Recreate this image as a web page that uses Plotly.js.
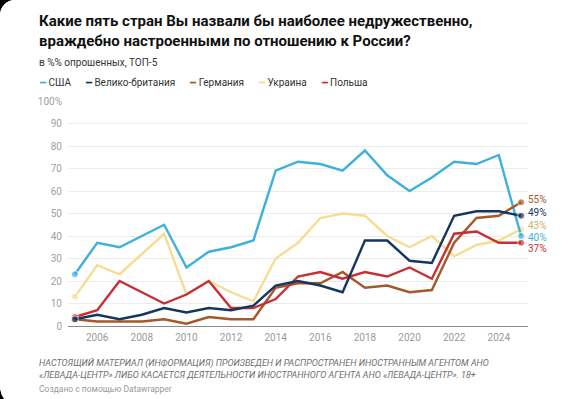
<!DOCTYPE html>
<html>
<head>
<meta charset="utf-8">
<script src="https://cdn.plot.ly/plotly-3.0.1.min.js"></script>
<style>
  html, body { margin: 0; padding: 0; background: #000; width: 577px; height: 399px; overflow: hidden; }
  #wrap { position: absolute; left: 0; top: 0; width: 577px; height: 408px; background: #fff;
          border-top-left-radius: 15px; border-bottom-left-radius: 22px; overflow: hidden; }
  #chart { width: 577px; height: 399px; }
</style>
</head>
<body>
<div id="wrap"><div id="chart"></div></div>
<script>
// ---- data ----
const years   = [2005,2006,2007,2008,2009,2010,2011,2012,2013,2014,2015,2016,2017,2018,2019,2020,2021,2022,2023,2024,2025];
const usa     = [23,37,35,40,45,26,33,35,38,69,73,72,69,78,67,60,66,73,72,76,40];
const uk      = [3,5,3,5,8,6,8,7,9,18,20,18,15,38,38,29,28,49,51,51,49];
const germany = [3,2,2,2,3,1,4,3,3,17,19,19,24,17,18,15,16,37,48,49,55];
const ukraine = [13,27,23,32,41,14,20,15,11,30,37,48,50,49,40,35,40,31,36,38,43];
const poland  = [4,7,20,15,10,14,20,8,8,12,22,24,21,24,22,26,21,41,42,37,37];
const seriesNames = ["США", "Велико-британия", "Германия", "Украина", "Польша"];
const xTicks = [2006,2008,2010,2012,2014,2016,2018,2020,2022,2024];
const yTicks = [0,10,20,30,40,50,60,70,80,90,100];
const yTickText = ["0","10","20","30","40","50","60","70","80","90","100%"];

// ---- style ----
const colors = ["#3db1dc", "#15365f", "#a5582a", "#f5de93", "#c72f35"];
const labelColors = ["#3db1dc", "#15365f", "#a5582a", "#c9b26c", "#c72f35"];
const seriesData = [usa, uk, germany, ukraine, poland];
const drawOrder = [3, 0, 2, 4, 1];
const labelShift = [-1, 3, 3, 4, -6]; // px offsets to separate end labels
const n = years.length;

const traces = drawOrder.map(i => ({
  x: years, y: seriesData[i], type: "scatter", mode: "lines+markers",
  name: seriesNames[i], showlegend: false, hoverinfo: "skip",
  line: { color: colors[i], width: 2.4 },
  marker: { color: colors[i], size: years.map((_, k) => (k === n - 1 || k === 0) ? 7 : 0) }
}));

const font = "Roboto, 'Liberation Sans', sans-serif";
const annotations = [];
seriesData.forEach((d, i) => {
  annotations.push({
    x: years[n - 1], y: d[n - 1], xref: "x", yref: "y",
    text: d[n - 1] + "%", showarrow: false, xanchor: "left", yanchor: "middle",
    xshift: 5, yshift: labelShift[i],
    font: { family: font, size: 10, color: labelColors[i] }
  });
});
// title
annotations.push({
  xref: "paper", yref: "paper", x: -0.0674, y: 1.405, xanchor: "left", yanchor: "top",
  showarrow: false, align: "left",
  text: "<b>Какие пять стран Вы назвали бы наиболее недружественно,<br>враждебно настроенными по отношению к России?</b>",
  font: { family: "Roboto, 'Liberation Sans', sans-serif", size: 15, color: "#111" }
});
// subtitle
annotations.push({
  xref: "paper", yref: "paper", x: -0.0674, y: 1.173, xanchor: "left", yanchor: "middle",
  showarrow: false, text: "в %% опрошенных, ТОП-5",
  font: { family: font, size: 10, color: "#333" }
});
// legend
const legendText = seriesNames.map((nm, i) =>
  `<span style="color:${colors[i]}">━</span> ${nm}`).join("\u00a0\u00a0\u00a0\u00a0\u00a0\u00a0");
annotations.push({
  xref: "paper", yref: "paper", x: -0.0674, y: 1.084, xanchor: "left", yanchor: "middle",
  showarrow: false, text: legendText,
  font: { family: font, size: 10, color: "#333" }
});
// footer
annotations.push({
  xref: "paper", yref: "paper", x: -0.0674, y: -0.135, xanchor: "left", yanchor: "top",
  showarrow: false, align: "left",
  text: "<i>НАСТОЯЩИЙ МАТЕРИАЛ (ИНФОРМАЦИЯ) ПРОИЗВЕДЕН И РАСПРОСТРАНЕН ИНОСТРАННЫМ АГЕНТОМ АНО<br>«ЛЕВАДА-ЦЕНТР» ЛИБО КАСАЕТСЯ ДЕЯТЕЛЬНОСТИ ИНОСТРАННОГО АГЕНТА АНО «ЛЕВАДА-ЦЕНТР». 18+</i>",
  font: { family: font, size: 9, color: "#6f6f6f" }
});
annotations.push({
  xref: "paper", yref: "paper", x: -0.0674, y: -0.28, xanchor: "left", yanchor: "middle",
  showarrow: false, text: "Создано с помощью Datawrapper",
  font: { family: font, size: 8.5, color: "#9a9a9a" }
});

const layout = {
  width: 577, height: 399,
  margin: { l: 68, r: 49, t: 101, b: 73 },
  paper_bgcolor: "#fff", plot_bgcolor: "#fff",
  xaxis: {
    range: [2004.69, 2025.31], tickvals: xTicks, ticks: "", showgrid: false, zeroline: false,
    showline: true, linecolor: "#8a8a8a", linewidth: 1.2,
    tickfont: { family: font, size: 10, color: "#9a9a9a" }, ticklabelstandoff: 2
  },
  yaxis: {
    range: [0, 100], tickvals: yTicks, ticktext: yTickText, ticks: "",
    showgrid: true, gridcolor: "#ececec", gridwidth: 1, zeroline: false, showline: false,
    tickfont: { family: font, size: 10, color: "#a0a0a0" }, ticklabelstandoff: 5
  },
  showlegend: false,
  annotations: annotations
};

Plotly.newPlot("chart", traces, layout, { displayModeBar: false, staticPlot: true });
</script>
</body>
</html>
